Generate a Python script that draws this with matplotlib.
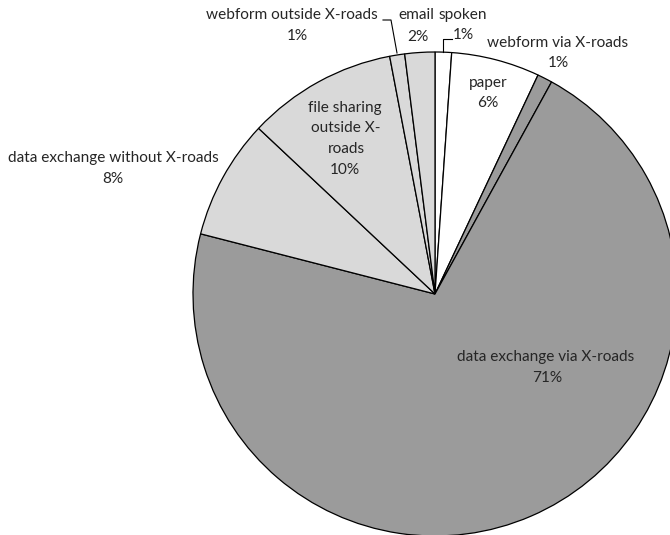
import matplotlib.pyplot as plt

# slice data, clockwise from 12 o'clock
names = ['spoken', 'paper', 'webform via X-roads', 'data exchange via X-roads',
         'data exchange without X-roads', 'file sharing outside X-roads',
         'webform outside X-roads', 'email']
values = [1.1, 5.9, 1.0, 71.0, 8.0, 10.0, 1.0, 2.0]
pct_labels = ['1%', '6%', '1%', '71%', '8%', '10%', '1%', '2%']
colors = ['white', 'white', '#9b9b9b', '#9b9b9b', '#d9d9d9', '#d9d9d9', '#d9d9d9', '#d9d9d9']

plt.rcParams['font.family'] = ['Lato', 'DejaVu Sans']

W, H = 670, 535
fig = plt.figure(figsize=(W / 100, H / 100), dpi=100)
ax = fig.add_axes([0, 0, 1, 1])

cx, cy, r = 435, H - 294, 242
ax.pie(values, colors=colors, startangle=90, counterclock=False,
       center=(cx, cy), radius=r, frame=True,
       wedgeprops=dict(edgecolor='black', linewidth=0.9))
ax.set_xlim(0, W)
ax.set_ylim(0, H)
ax.set_aspect('equal')
ax.axis('off')

# size the font so the long label is as wide as in the reference (~178 px)
renderer = fig.canvas.get_renderer()
probe = ax.text(0, 0, 'data exchange via X-roads', fontsize=10)
w10 = probe.get_window_extent(renderer).width
probe.remove()
fs = 10 * 178 / w10

# label lines: text, centre x, centre y (pixels from top)
label_lines = [
    ('webform outside X-roads', 292, 15), (pct_labels[6], 297, 36),
    ('email', 416, 15), (pct_labels[7], 418, 37),
    ('spoken', 463, 15), (pct_labels[0], 463, 35),
    ('webform via X-roads', 558, 43), (pct_labels[2], 558, 63),
    ('paper', 488, 83), (pct_labels[1], 488, 103),
    ('data exchange via X-roads', 546, 357), (pct_labels[3], 547, 378),
    ('data exchange without X-roads', 113, 158), (pct_labels[4], 113, 179),
    ('file sharing', 345, 108), ('outside X-', 346, 128),
    ('roads', 346, 149), (pct_labels[5], 345, 170),
]
for txt, x, y in label_lines:
    ax.text(x, H - y, txt, ha='center', va='center', fontsize=fs, color='#262626')

# leader lines
ax.plot([383, 391, 397], [H - 20, H - 20, H - 53], color='black', lw=0.8)
ax.plot([443, 443, 452], [H - 52, H - 39, H - 39], color='black', lw=0.8)

fig.savefig('out.png', dpi=100)
